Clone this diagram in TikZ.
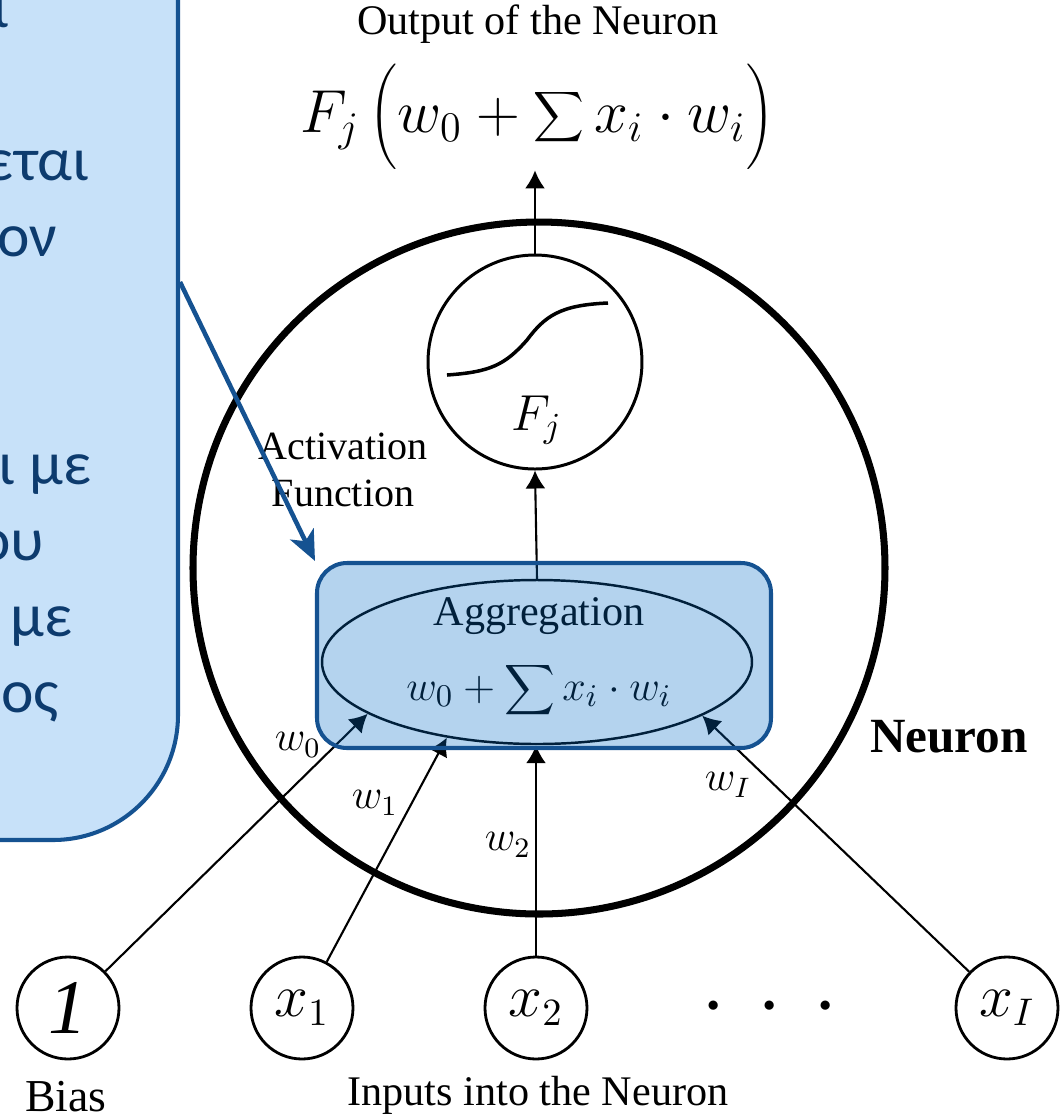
\documentclass[tikz,border=0pt]{standalone}
\usepackage{fontspec}
\setmainfont{Liberation Serif}
\newfontfamily\greekfont{Carlito}
\usetikzlibrary{arrows.meta,shapes.geometric,positioning}

\definecolor{notefill}{RGB}{199,225,249}
\definecolor{noteline}{RGB}{21,82,145}
\definecolor{notetext}{RGB}{13,59,110}
\definecolor{hlfill}{RGB}{5,108,198}

\begin{document}
\begin{tikzpicture}[x=0.1mm,y=-0.1mm,
  every node/.style={font=\fontsize{12}{14}\selectfont},
  wire/.style={line width=0.6pt,-{Latex[length=0.18cm,width=0.2cm]}},
  input/.style={circle,draw,line width=0.8pt,minimum size=1.02cm,inner sep=0pt,
    font=\fontsize{16}{18}\selectfont},
  gtext/.style={anchor=base east,inner sep=0pt,text=notetext,
    font=\greekfont\fontsize{17.5}{21}\selectfont}]
  \useasboundingbox (0,0) rectangle (1064,1115);
  \clip (0,0) rectangle (1064,1115);

  % note box on the left
  \node (note) [draw=noteline,fill=notefill,line width=1.15pt,rounded corners=1.25cm,
    minimum width=5cm,minimum height=11.16cm] at (-72,282) {};
  \node[gtext] at (10,27) {ι};
  \node[gtext] at (90,180) {εται};
  \node[gtext] at (58,256) {ον};
  \node[gtext] at (92,484) {ι με};
  \node[gtext] at (45,560) {ου};
  \node[gtext] at (73,636) {με};
  \node[gtext] at (60,712) {ιος};

  % neuron, activation and aggregation
  \node (neuron) [circle,draw,line width=2pt,minimum size=6.92cm,inner sep=0pt] at (539,568) {};
  \node (act) [circle,draw,line width=0.85pt,minimum size=2.14cm,inner sep=0pt] at (535,362) {};
  \node (agg) [ellipse,draw,line width=0.7pt,minimum width=4.3cm,minimum height=1.64cm,
    inner sep=0pt] at (537,662) {};
  \begin{scope}[shift={(act.center)}]
    \draw[line width=1pt] (-88,13) .. controls (-45,10) and (-30,3) .. (-8,-22)
      .. controls (10,-46) and (25,-57) .. (73,-59);
    \node (fj) at (2,58) {\fontsize{14}{16}\selectfont$F_j$};
  \end{scope}
  \node (actlbl) [align=center,font=\fontsize{11.4}{13.4}\selectfont] at (343,470) {Activation\\Function};
  \node (aggname) [inner sep=0pt] at (539,616) {Aggregation};
  \node (aggsum) [inner sep=0pt] at (539,690) {\fontsize{13}{15}\selectfont$\displaystyle w_0+\sum x_i\cdot w_i$};

  % output
  \node (outlbl) [inner sep=0pt] at (538,24) {Output of the Neuron};
  \node (outf) [inner sep=0pt] at (537,117) {\fontsize{18}{20}\selectfont
    $\displaystyle F_j\left(\vrule height 0.34cm depth 0.34cm width 0pt w_0+\sum x_i\cdot w_i\right)$};
  \draw[wire] (agg.north) -- (act.south);
  \draw[wire] (act.north) -- (act.north |- outf.south);

  % inputs
  \node (bias) [input,font=\fontsize{22}{24}\selectfont] at (68,1008) {\textit{1}};
  \node (x1) [input] at (302,1008) {$x_1$};
  \node (x2) [input] at (536,1008) {$x_2$};
  \node (xI) [input] at (1007,1008) {$x_I$};
  \node (dots) [font=\fontsize{24}{26}\selectfont] at (770,1008)
    {$\cdot$\hspace{0.32cm}$\cdot$\hspace{0.32cm}$\cdot$};
  \node (biaslbl) [font=\fontsize{13}{15}\selectfont] at (66,1097) {Bias};
  \node (inlbl) at (538,1095) {Inputs into the Neuron};
  \node (neulbl) [font=\bfseries\fontsize{14}{16}\selectfont] at (949,737) {Neuron};

  \draw[wire] (bias) -- (agg.197);
  \draw[wire] (x1) -- (agg.220);
  \draw[wire] (x2) -- (x2 |- agg.south);
  \draw[wire] (xI) -- (agg.342);
  \node (w0) at (298,745) {$w_0$};
  \node (w1) at (375,803) {$w_1$};
  \node (w2) at (508,845) {$w_2$};
  \node (wI) at (728,785) {$w_I$};

  % highlight over the aggregation step
  \node (hl) [draw=noteline,line width=1.15pt,fill=hlfill,fill opacity=0.3,
    rounded corners=0.3cm,minimum width=4.54cm,minimum height=1.85cm,inner sep=0pt]
    at (544,655.5) {};
  \draw[noteline,line width=1.3pt,-{Stealth[length=0.3cm,width=0.26cm,inset=0.08cm]}]
    (note.east) -- (hl.north west);
\end{tikzpicture}
\end{document}
